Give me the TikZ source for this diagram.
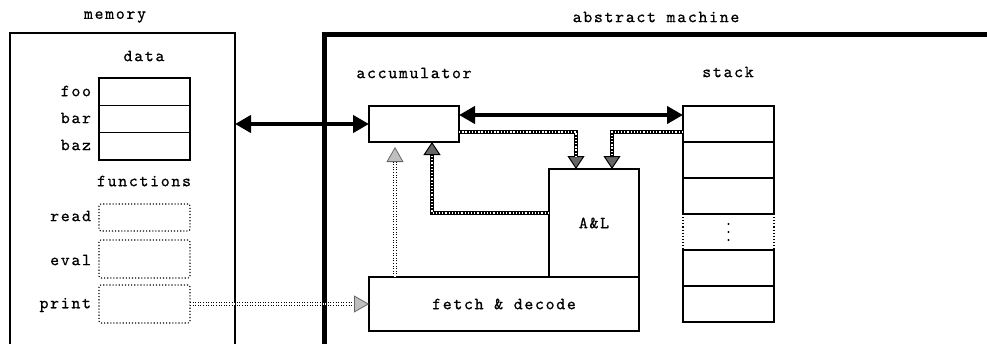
\documentclass[tikz,border=0pt]{standalone}
\usepackage{fontspec}
\newfontfamily\pixfont{lmmono10-regular.otf}[LetterSpace=10, FakeBold=0.7]
\usetikzlibrary{arrows.meta}
\begin{document}
\begin{tikzpicture}[x=1pt,y=-1pt,
  every node/.style={font=\pixfont\fontsize{17}{19}\selectfont, inner sep=0pt, outer sep=0pt},
  box/.style={draw, line width=1.2pt},
  dbox/.style={draw, line width=1.1pt, dotted, rounded corners=2pt},
  lbl/.style={anchor=east},
  thickarrow/.style={line width=4.5pt, {Triangle[length=16pt,width=17pt]}-{Triangle[length=16pt,width=17pt]}},
  chain/.style={line width=3.8pt, line join=miter, -{Triangle[length=13pt,width=17pt,fill=black!60,color=black,line width=1pt]},
    postaction={draw=white, line width=1.3pt, dash pattern=on 1.3pt off 1.9pt, arrows=-, shorten >=13pt}},
  dots/.style={line width=1pt, double distance=1.6pt, dash pattern=on 1pt off 1.6pt,
    -{Triangle[length=15pt,width=17pt,fill=black!25,color=black!60,line width=0.8pt]}},
  stackdot/.style={fill=black}
]
\useasboundingbox (0,0) rectangle (987,343);
\clip (0,0) rectangle (987,343);

% titles
\node (tmem) at (115,17) {memory};
\node (tmach) at (656,17) {abstract machine};

% memory
\node[box, minimum width=225pt, minimum height=367pt] (mem) at (122.5,216.5) {};
\node (tdata) at (144,56) {data};
\node[box, minimum width=91pt, minimum height=27.3pt] (foo) at (144.5,91.7) {};
\node[box, minimum width=91pt, minimum height=27.3pt] (bar) at (144.5,119) {};
\node[box, minimum width=91pt, minimum height=27.3pt] (baz) at (144.5,146.3) {};
\node[lbl] (lfoo) at (91,91) {foo};
\node[lbl] (lbar) at (91,118) {bar};
\node[lbl] (lbaz) at (91,145) {baz};
\node (tfun) at (144,181) {functions};
\node[dbox, minimum width=91pt, minimum height=27pt] (read) at (144.5,217.5) {};
\node[dbox, minimum width=91pt, minimum height=38pt] (eval) at (144.5,259) {};
\node[dbox, minimum width=91pt, minimum height=38pt] (print) at (144.5,304) {};
\node[lbl] (lread) at (91,216) {read};
\node[lbl] (leval) at (91,260) {eval};
\node[lbl] (lprint) at (91,305) {print};

% abstract machine
\node[draw, line width=4.5pt, minimum width=800pt, minimum height=400pt, anchor=north west] (mach) at (324.5,34.5) {};
\node (tacc) at (414,73) {accumulator};
\node (tstack) at (728,72) {stack};
\node[box, minimum width=90pt, minimum height=36pt] (acc) at (414,124) {};
\node[box, minimum width=91pt, minimum height=36pt] (s1) at (728.5,124) {};
\node[box, minimum width=91pt, minimum height=36pt] (s2) at (728.5,160) {};
\node[box, minimum width=91pt, minimum height=36pt] (s3) at (728.5,196) {};
\node[minimum width=91pt, minimum height=36pt] (s4) at (728.5,232) {};
\draw[line width=1.1pt, dotted] (s4.north west) -- (s4.south west) (s4.north east) -- (s4.south east);
\fill[stackdot] ([yshift=8pt]s4.center) circle (1.1pt);
\fill[stackdot] (s4.center) circle (1.1pt);
\fill[stackdot] ([yshift=-8pt]s4.center) circle (1.1pt);
\node[box, minimum width=91pt, minimum height=36pt] (s5) at (728.5,268) {};
\node[box, minimum width=91pt, minimum height=36pt] (s6) at (728.5,304) {};
\node[box, minimum width=90pt, minimum height=108pt] (al) at (594,223) {A\&L};
\node[box, minimum width=270pt, minimum height=54pt] (fd) at (504,304) {fetch \& decode};

% connectors
\draw[thickarrow] (mem.east |- acc.west) -- (acc.west);
\draw[thickarrow] ([yshift=9pt]acc.east) -- ([yshift=9pt]s1.west);
\draw[chain] ([yshift=-8pt]acc.east) -| ([xshift=-18pt]al.north);
\draw[chain] ([yshift=-8pt]s1.west) -| ([xshift=18pt]al.north);
\draw[chain] ([yshift=10pt]al.west) -| ([xshift=18pt]acc.south);
\draw[dots] ([xshift=-109pt]fd.north) -- ([xshift=-19pt,yshift=-5pt]acc.south);
\draw[dots] (print.east) -- (fd.west);
\end{tikzpicture}
\end{document}
